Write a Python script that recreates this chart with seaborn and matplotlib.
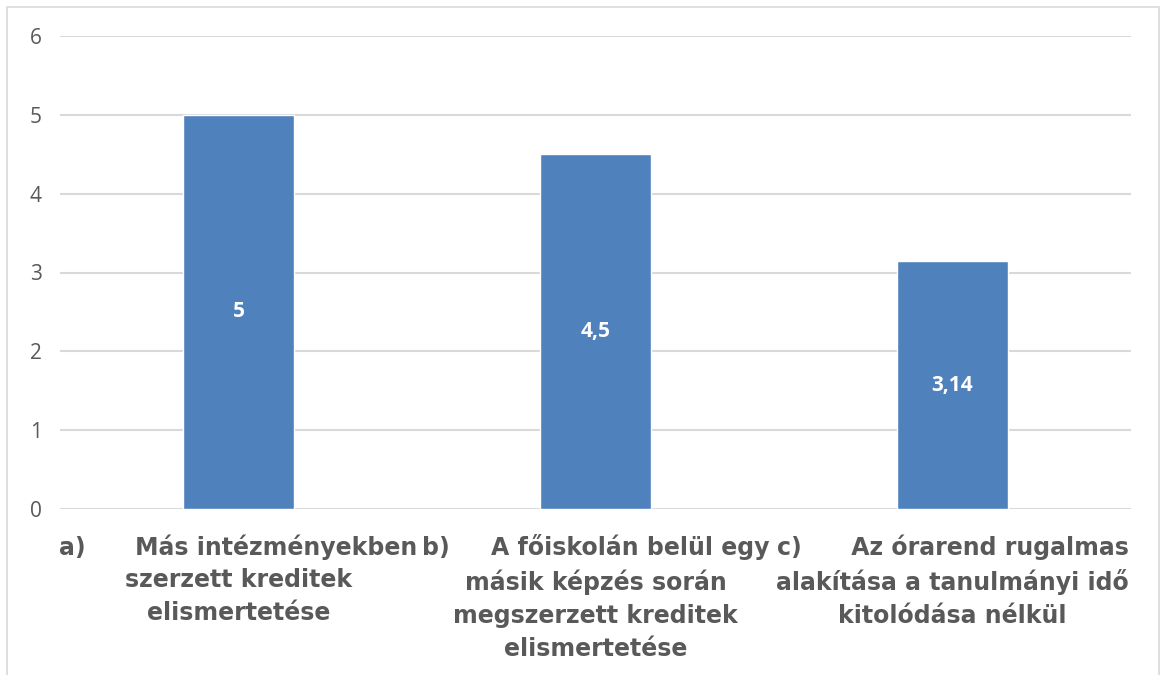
import pandas as pd
import numpy as np
import matplotlib.pyplot as plt
import matplotlib.patches as patches
import seaborn as sns

categories = [
    "a)      Más intézményekben\nszerzett kreditek\nelismertetése",
    "b)     A főiskolán belül egy\nmásik képzés során\nmegszerzett kreditek\nelismertetése",
    "c)      Az órarend rugalmas\nalakítása a tanulmányi idő\nkitolódása nélkül",
]
values = [5, 4.5, 3.14]
value_labels = ["5", "4,5", "3,14"]
y_ticks = [0, 1, 2, 3, 4, 5, 6]

df = pd.DataFrame({"cat": categories, "val": values})

sns.set_style("white")
plt.rcParams["font.family"] = ["Open Sans", "DejaVu Sans"]

fig = plt.figure(figsize=(11.6, 6.75), dpi=100)
ax = fig.add_axes([60 / 1160, 1 - 509 / 675, 1071 / 1160, 473 / 675])

sns.barplot(data=df, x="cat", y="val", color="#4f81bd", saturation=1,
            width=0.31, ax=ax)

ax.set_ylim(0, 6)
ax.set_xlim(-0.5, 2.5)
ax.set_yticks(y_ticks)
ax.set_yticklabels([str(t) for t in y_ticks], fontsize=15, color="#595959")
ax.yaxis.grid(True, color="#d9d9d9", linewidth=1.5)
ax.set_axisbelow(True)
for s in ax.spines.values():
    s.set_visible(False)
ax.tick_params(axis="y", length=0, pad=13)
ax.tick_params(axis="x", length=0, pad=18)
ax.set_xlabel("")
ax.set_ylabel("")
ax.set_xticks(range(len(categories)))
ax.set_xticklabels(categories, fontsize=17, fontweight="bold", color="#595959",
                   family="DejaVu Sans", linespacing=1.47, va="top")

# value labels in the middle of the bars
for bar, lab in zip(ax.patches, value_labels):
    ax.text(bar.get_x() + bar.get_width() / 2, bar.get_height() / 2, lab,
            ha="center", va="center", color="white", fontsize=15, fontweight="bold")

# chart border
fig.patches.append(patches.Rectangle((7 / 1160, -0.02), 1152 / 1160, 1 - 7 / 675 + 0.02,
                                     transform=fig.transFigure, fill=False,
                                     edgecolor="#d9d9d9", linewidth=1.2))

plt.savefig("out.png", dpi=100)
